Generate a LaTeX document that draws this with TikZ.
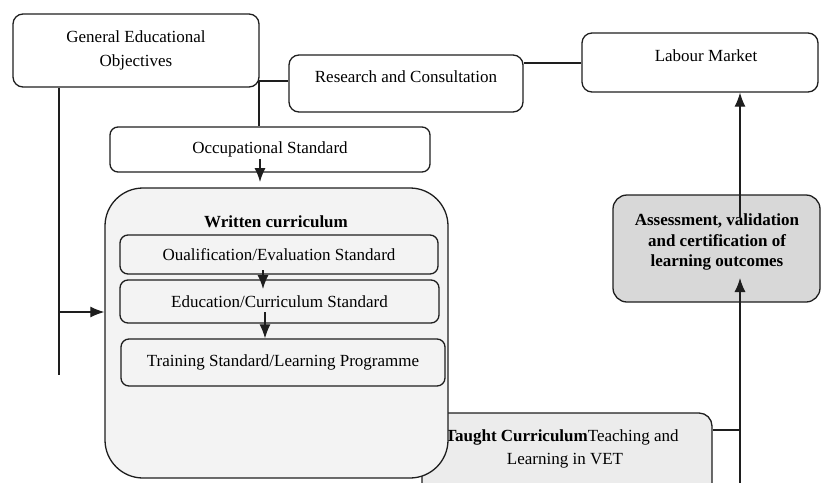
\documentclass[tikz,border=0pt]{standalone}
\usepackage{fontspec}
\setmainfont{Liberation Serif}
\usetikzlibrary{arrows.meta}
\definecolor{edge}{HTML}{1E1E1E}
\definecolor{wcfill}{HTML}{F3F3F3}
\definecolor{tcfill}{HTML}{ECECEC}
\definecolor{asfill}{HTML}{D8D8D8}
\begin{document}
\begin{tikzpicture}[x=1pt,y=-1pt,
  box/.style={draw=edge,line width=1.3pt,rounded corners=10pt,inner sep=0pt,align=center,
    font=\fontsize{17}{24}\selectfont},
  txt/.style={inner sep=0pt,align=center,font=\fontsize{17}{23}\selectfont},
  btxt/.style={txt,font=\fontsize{17}{20.5}\selectfont\bfseries},
  conn/.style={draw=edge,line width=1.2pt},
  arr/.style={conn,-{Latex[length=14pt,width=11pt]}}]
\useasboundingbox (0,0) rectangle (824,482);
\clip (0,0) rectangle (824,482);

% top boxes
\node[box,minimum width=246pt,minimum height=73pt] (geo) at (136,50.5) {General Educational\\Objectives};
\node[box,minimum width=234pt,minimum height=57pt] (rc) at (406,83.5) {};
\node[txt] (rct) at (406,77) {Research and Consultation};
\node[box,minimum width=236pt,minimum height=59pt] (lm) at (700,62.5) {};
\node[txt] (lmt) at (706,56) {Labour Market};
\node[box,rounded corners=8pt,minimum width=320pt,minimum height=45pt] (occ) at (270,149.5) {Occupational Standard};

% taught curriculum (behind written curriculum)
\node[box,fill=tcfill,rounded corners=13pt,minimum width=290pt,minimum height=90pt] (tc) at (567,458) {};
\node[txt] (tct) at (562,448.5) {\textbf{Taught Curriculum}Teaching and\\\hspace*{6pt}Learning in VET};

% written curriculum
\node[box,fill=wcfill,rounded corners=38pt,minimum width=343pt,minimum height=290pt] (wc) at (276.5,333) {};
\node[btxt] (wct) at (276,222) {Written curriculum};
\node[box,rounded corners=8pt,minimum width=318pt,minimum height=39pt] (q) at (279,254.5) {Oualification/Evaluation Standard};
\node[box,rounded corners=8pt,minimum width=319pt,minimum height=43pt] (e) at (279.5,301.5) {Education/Curriculum Standard};
\node[box,rounded corners=8pt,minimum width=324pt,minimum height=47pt] (t) at (283,362.5) {Training Standard/Learning Programme};

% assessment
\node[box,fill=asfill,rounded corners=14pt,minimum width=207pt,minimum height=107pt] (as) at (716.5,248.5) {};
\node[btxt] (ast) at (717,242) {Assessment, validation\\and certification of\\learning outcomes};

% connectors
\coordinate (gend) at (59,375);
\coordinate (gj) at (59,312);
\draw[conn] (geo.south -| gend) -- (gend);
\draw[arr] (gj) -- (wc.west |- gj);
\coordinate (gr) at (259,81);
\draw[conn] (gr) -- (rc.west |- gr);
\draw[conn] (gr) -- (occ.north -| gr);
\coordinate (rl) at (523,63);
\draw[conn] (rc.east |- rl) -- (lm.west |- rl);
\coordinate (o1) at (260,159);
\draw[arr] (o1) -- (260,182);
\coordinate (q1) at (263,270);
\draw[arr] (q1) -- (263,289);
\coordinate (e1) at (265,312);
\draw[arr] (e1) -- (t.north -| e1);
\coordinate (tj) at (740,430);
\draw[conn] (tc.east |- tj) -- (tj);
\coordinate (vb) at (740,485);
\coordinate (atip) at (740,278);
\draw[arr] (vb) -- (atip);
\coordinate (a1) at (740,217);
\draw[arr] (a1) -- (lm.south -| a1);
\end{tikzpicture}
\end{document}
